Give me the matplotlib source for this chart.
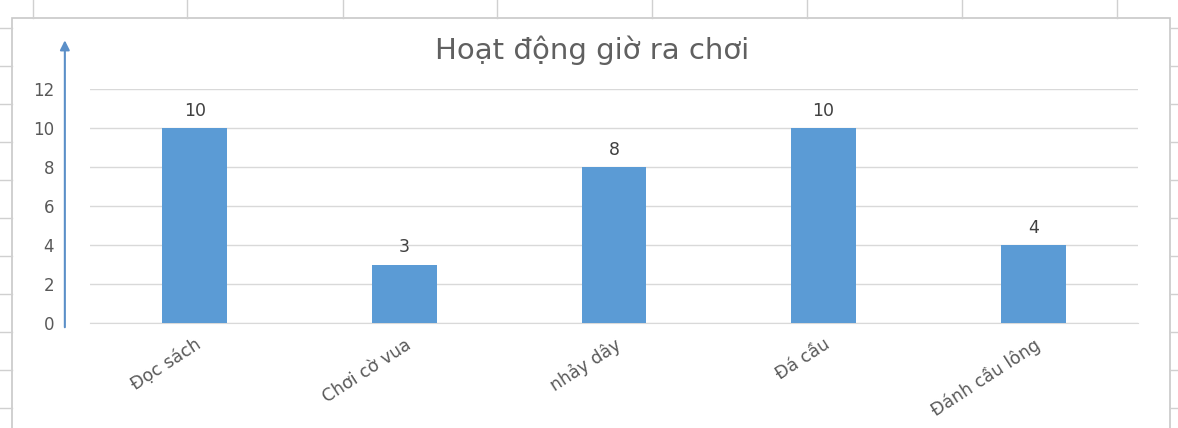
import matplotlib
matplotlib.use("Agg")
import matplotlib.pyplot as plt
from matplotlib.patches import Rectangle
from matplotlib.lines import Line2D

activities = ["Đọc sách", "Chơi cờ vua", "nhảy dây", "Đá cầu", "Đánh cầu lông"]
counts = [10, 3, 8, 10, 4]
y_ticks = [0, 2, 4, 6, 8, 10, 12]
title = "Hoạt động giờ ra chơi"

W, H = 1178, 428


def main():
    fig = plt.figure(figsize=(W / 100, H / 100), dpi=100)
    fig.patch.set_facecolor("white")

    # excel sheet grid around the chart
    for x in [33, 187, 343, 497, 652, 807, 962, 1117]:
        fig.add_artist(Line2D([x / W, x / W], [1, 1 - 18 / H], color="#d0d0d0", lw=1))
    for y in range(28, H, 38):
        fig.add_artist(Line2D([0, 12 / W], [1 - y / H, 1 - y / H], color="#d0d0d0", lw=1))
        fig.add_artist(Line2D([1170 / W, 1], [1 - y / H, 1 - y / H], color="#d0d0d0", lw=1))
    # chart border
    fig.add_artist(Rectangle((12 / W, -0.05), (1170 - 12) / W, 1.05 - 18 / H,
                             transform=fig.transFigure, fill=False,
                             edgecolor="#c8c8c8", lw=1.2))

    ax = fig.add_axes([90 / W, 105 / H, 1048 / W, 234 / H])
    x = range(len(activities))
    bars = ax.bar(x, counts, width=0.31, color="#5B9BD5", zorder=3)
    ax.bar_label(bars, padding=6, fontsize=12.5, color="#404040")

    ax.set_xlim(-0.5, len(activities) - 0.5)
    ax.set_ylim(0, 12)
    ax.set_yticks(y_ticks)
    ax.yaxis.grid(True, color="#d9d9d9", lw=1, zorder=0)
    ax.set_xticks(list(x))
    ax.set_xticklabels(activities, rotation=33, ha="right", rotation_mode="anchor",
                       fontsize=12.5, color="#595959")
    ax.tick_params(axis="y", length=0, pad=26, labelsize=12, labelcolor="#595959")
    ax.tick_params(axis="x", length=0, pad=9)
    for s in ["top", "right", "left"]:
        ax.spines[s].set_visible(False)
    ax.spines["bottom"].set_color("#d9d9d9")

    # blue arrow acting as y axis
    ax.annotate("", xy=(-0.024, 1.22), xytext=(-0.024, -0.03),
                xycoords="axes fraction",
                arrowprops=dict(arrowstyle="-|>", color="#5B8FC8", lw=1.5,
                                mutation_scale=14))

    fig.text(592 / W, 1 - 50 / H, title, ha="center", va="center",
             fontsize=21, color="#606060")

    fig.savefig("out.png", dpi=100)


if __name__ == "__main__":
    main()
